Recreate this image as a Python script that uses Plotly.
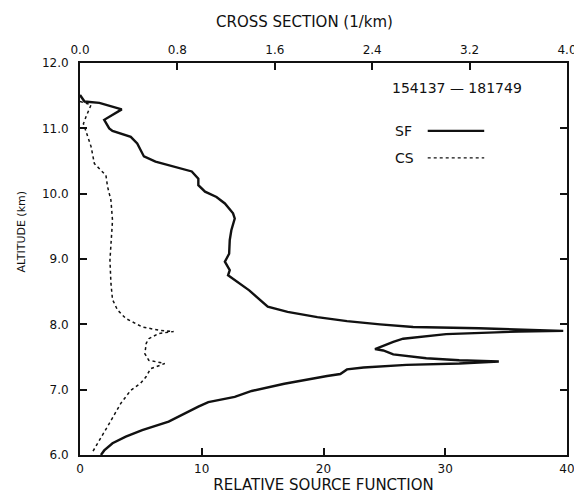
import plotly.graph_objects as go

# ---- data ----
sf_x = [0, 0.37, 1.59, 3.43, 1.99, 2.40, 2.67, 4.17, 4.70, 4.98, 5.25, 6.20, 7.83, 9.18,
        9.72, 9.72, 10.27, 11.21, 11.9, 12.57, 12.71, 12.43, 12.30, 12.25, 11.9, 12.3,
        12.16, 13.25, 13.9, 15.42, 17.05, 19.49, 21.93, 24.64, 27.36, 32.77, 36.31, 39.69,
        36.03, 30.07, 26.54, 25.73, 24.23, 24.91, 25.73, 27.08, 28.44, 31.15, 34.4, 31.15,
        26.81, 23.29, 21.93, 21.38, 20.30, 16.78, 14.1, 12.71, 10.54, 9.72, 8.64, 7.28,
        5.11, 3.76, 2.67, 1.99, 1.72]
sf_alt = [11.51, 11.41, 11.39, 11.29, 11.13, 11.0, 10.96, 10.87, 10.77, 10.67, 10.57, 10.49,
          10.41, 10.34, 10.23, 10.13, 10.03, 9.95, 9.85, 9.70, 9.62, 9.44, 9.29, 9.08, 8.96,
          8.83, 8.75, 8.60, 8.52, 8.27, 8.19, 8.11, 8.05, 8.0, 7.96, 7.94, 7.92, 7.90, 7.89,
          7.85, 7.78, 7.73, 7.62, 7.60, 7.54, 7.51, 7.48, 7.45, 7.43, 7.40, 7.38, 7.34, 7.31,
          7.24, 7.21, 7.09, 6.98, 6.89, 6.81, 6.74, 6.64, 6.51, 6.38, 6.28, 6.18, 6.07, 6.0]

cs_x = [0.0, 0.091, 0.05, 0.028, 0.05, 0.091, 0.118, 0.172, 0.213, 0.226, 0.254, 0.267,
        0.254, 0.246, 0.254, 0.267, 0.308, 0.376, 0.511, 0.647, 0.769, 0.647, 0.565, 0.544,
        0.533, 0.565, 0.696, 0.579, 0.544, 0.498, 0.417, 0.335, 0.240, 0.159, 0.104]
cs_alt = [11.41, 11.36, 11.18, 11.07, 10.95, 10.72, 10.46, 10.36, 10.28, 10.11, 9.90, 9.59,
          9.29, 8.98, 8.63, 8.38, 8.22, 8.09, 7.96, 7.91, 7.89, 7.86, 7.78, 7.71, 7.55, 7.45,
          7.40, 7.32, 7.20, 7.10, 6.99, 6.79, 6.48, 6.23, 6.05]

sf_ticks = [0, 10, 20, 30, 40]
cs_ticks = [0.0, 0.8, 1.6, 2.4, 3.2, 4.0]
cs_ticktext = ["0.0", "0.8", "1.6", "2.4", "3.2", "4.0"]
alt_ticks = [6, 7, 8, 9, 10, 11, 12]
alt_ticktext = ["6.0", "7.0", "8.0", "9.0", "10.0", "11.0", "12.0"]

FONT = "DejaVu Sans, Verdana, sans-serif"
INK = "#111111"
FS = 12

fig = go.Figure()
fig.add_trace(go.Scatter(x=sf_x, y=sf_alt, mode="lines", name="SF",
                         line=dict(color=INK, width=2.4), xaxis="x", yaxis="y",
                         showlegend=False))
fig.add_trace(go.Scatter(x=cs_x, y=cs_alt, mode="lines", name="CS",
                         line=dict(color=INK, width=1.5, dash="dot"), xaxis="x2", yaxis="y",
                         showlegend=False))

axis_common = dict(showgrid=False, zeroline=False, showline=True, linecolor=INK,
                   linewidth=2, ticks="inside", ticklen=7, tickwidth=1.5, tickcolor=INK,
                   automargin=False,
                   tickfont=dict(family=FONT, size=FS, color=INK))

fig.update_layout(
    width=574, height=486,
    margin=dict(l=72, r=15, t=55, b=39),
    paper_bgcolor="white", plot_bgcolor="white",
    font=dict(family=FONT, color=INK),
    xaxis=dict(range=[0, 40], tickvals=sf_ticks, side="bottom",
               title=dict(text="RELATIVE SOURCE FUNCTION",
                          font=dict(size=15, family=FONT), standoff=5),
               ticklabelstandoff=2, ticklabeloverflow="allow", **axis_common),
    xaxis2=dict(range=[0, 4.0], tickvals=cs_ticks, ticktext=cs_ticktext, side="top",
                overlaying="x", anchor="y", ticklabelstandoff=2, ticklabeloverflow="allow",
                **axis_common),
    yaxis=dict(range=[6, 12], tickvals=alt_ticks, ticktext=alt_ticktext, mirror="ticks",
               ticklabelstandoff=7, **axis_common),
    annotations=[
        dict(text="CROSS SECTION (1/km)", x=(305 - 80.5) / 486.5, y=1.0, xref="paper",
             yref="paper", xanchor="center", yanchor="middle", yshift=41, showarrow=False,
             font=dict(size=15, family=FONT, color=INK)),
        dict(text="ALTITUDE (km)", x=(22 - 80.5) / 486.5, y=(455 - 232) / 392, xref="paper",
             yref="paper", xanchor="center", yanchor="middle", textangle=-90,
             showarrow=False, font=dict(size=11, family=FONT, color=INK)),
        dict(text="154137 \u2014 181749", x=0.775, y=0.936, xref="paper", yref="paper",
             xanchor="center", yanchor="middle",
             showarrow=False, font=dict(size=14, family=FONT, color=INK)),
        dict(text="SF", x=0.642, y=0.827, xref="paper", yref="paper", xanchor="left",
             yanchor="middle", showarrow=False, font=dict(size=14, family=FONT, color=INK)),
        dict(text="CS", x=0.642, y=0.758, xref="paper", yref="paper", xanchor="left",
             yanchor="middle", showarrow=False, font=dict(size=14, family=FONT, color=INK)),
    ],
    shapes=[
        dict(type="line", xref="paper", yref="paper", x0=0.714, x1=0.830, y0=0.827, y1=0.827,
             line=dict(color=INK, width=2.2)),
        dict(type="line", xref="paper", yref="paper", x0=0.714, x1=0.830, y0=0.758, y1=0.758,
             line=dict(color=INK, width=1.4, dash="dot")),
    ],
)

fig.write_html("out.html")
